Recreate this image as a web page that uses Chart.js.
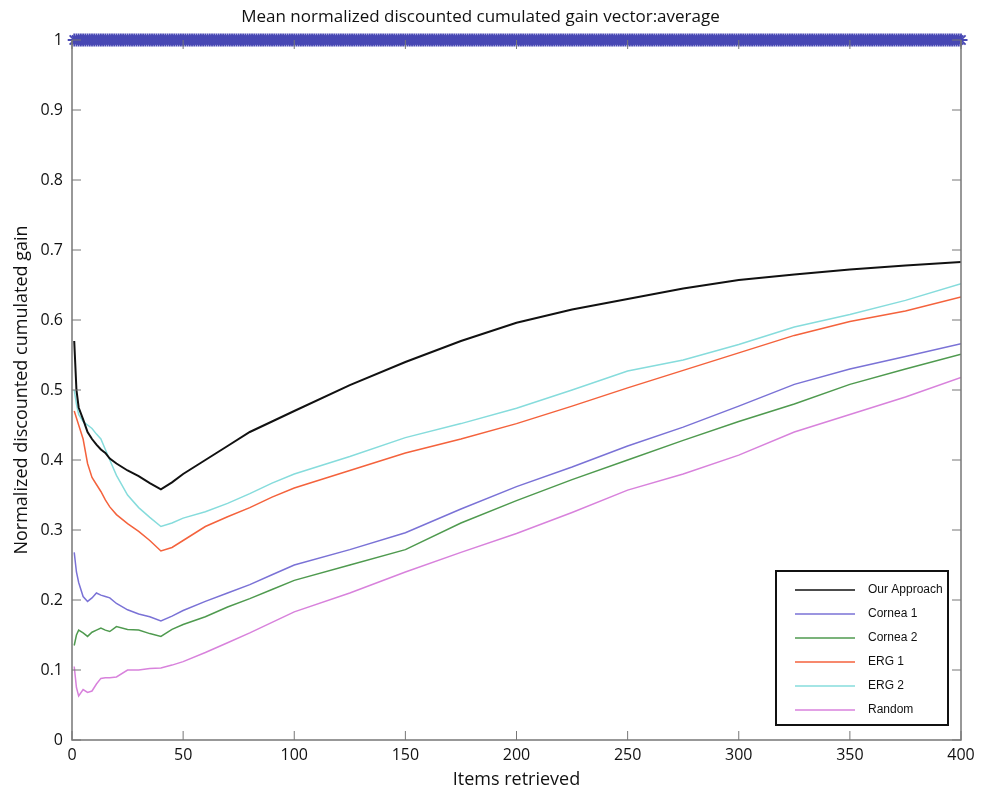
<!DOCTYPE html>
<html>
<head>
<meta charset="utf-8">
<script src="https://cdn.jsdelivr.net/npm/chart.js@4.4.0/dist/chart.umd.min.js"></script>
<style>
  html, body { margin: 0; padding: 0; background: #fff; }
  #wrap { width: 989px; height: 791px; position: relative; }
</style>
</head>
<body>
<div id="wrap"><canvas id="ndcgChart"></canvas></div>
<script>
// items retrieved (x positions of the sampled points)
const itemsRetrieved = [1, 2, 3, 5, 7, 9, 11, 13, 15, 17, 20, 25, 30, 35, 40, 45, 50, 60, 70, 80, 90, 100,
    125, 150, 175, 200, 225, 250, 275, 300, 325, 350, 375, 400];

const ourApproach = [0.570, 0.500, 0.475, 0.458, 0.440, 0.430, 0.422, 0.415, 0.410, 0.402, 0.395, 0.385, 0.377, 0.367, 0.358, 0.368, 0.380,
    0.400, 0.420, 0.440, 0.455, 0.470, 0.507, 0.540, 0.570, 0.596, 0.615, 0.630, 0.645, 0.657, 0.665, 0.672, 0.678, 0.683];
const cornea1 = [0.268, 0.240, 0.225, 0.205, 0.198, 0.203, 0.210, 0.207, 0.205, 0.203, 0.195, 0.186, 0.180, 0.176, 0.170, 0.177, 0.185,
    0.198, 0.210, 0.222, 0.236, 0.250, 0.272, 0.296, 0.330, 0.362, 0.390, 0.420, 0.447, 0.477, 0.508, 0.530, 0.548, 0.566];
const cornea2 = [0.135, 0.150, 0.157, 0.153, 0.148, 0.154, 0.157, 0.160, 0.157, 0.155, 0.162, 0.158, 0.157, 0.152, 0.148, 0.158, 0.165,
    0.176, 0.190, 0.202, 0.215, 0.228, 0.250, 0.272, 0.310, 0.342, 0.372, 0.400, 0.428, 0.455, 0.480, 0.508, 0.530, 0.551];
const erg1 = [0.470, 0.460, 0.450, 0.430, 0.395, 0.375, 0.365, 0.355, 0.343, 0.333, 0.322, 0.309, 0.298, 0.285, 0.270, 0.275, 0.285,
    0.305, 0.319, 0.332, 0.347, 0.360, 0.385, 0.410, 0.430, 0.452, 0.477, 0.503, 0.528, 0.553, 0.578, 0.598, 0.613, 0.633];
const erg2 = [0.500, 0.480, 0.465, 0.455, 0.450, 0.445, 0.437, 0.430, 0.415, 0.400, 0.378, 0.350, 0.332, 0.318, 0.305, 0.310, 0.317,
    0.326, 0.338, 0.352, 0.367, 0.380, 0.405, 0.432, 0.452, 0.474, 0.500, 0.527, 0.543, 0.565, 0.590, 0.608, 0.628, 0.652];
const randomRank = [0.105, 0.075, 0.063, 0.072, 0.068, 0.070, 0.080, 0.088, 0.089, 0.089, 0.090, 0.100, 0.100, 0.102, 0.103, 0.107, 0.112,
    0.125, 0.139, 0.153, 0.168, 0.183, 0.210, 0.240, 0.268, 0.295, 0.325, 0.357, 0.380, 0.407, 0.440, 0.465, 0.490, 0.518];

// ideal ranking: every item scores 1 (the row of stars along the top)
const idealItems = Array.from({ length: 400 }, (_, i) => i + 1);
const idealValues = idealItems.map(() => 1);

const xTicks = [0, 50, 100, 150, 200, 250, 300, 350, 400];
const yTicks = [0, 0.1, 0.2, 0.3, 0.4, 0.5, 0.6, 0.7, 0.8, 0.9, 1];

const seriesNames = ['Our Approach', 'Cornea 1', 'Cornea 2', 'ERG 1', 'ERG 2', 'Random'];
const seriesValues = [ourApproach, cornea1, cornea2, erg1, erg2, randomRank];
const seriesColors = ['#111111', '#7a72d6', '#4f9a4f', '#f4623c', '#86dcdc', '#d882dc'];

const mainFont = "'Open Sans', 'Noto Sans', sans-serif";

function toPoints(xs, ys) {
    return xs.map((x, i) => ({ x: x, y: ys[i] }));
}

var datasets = seriesNames.map(function (name, i) {
    return {
        label: name,
        data: toPoints(itemsRetrieved, seriesValues[i]),
        borderColor: seriesColors[i],
        backgroundColor: seriesColors[i],
        borderWidth: i === 0 ? 2 : 1.5,
        pointRadius: 0,
        tension: 0,
        order: 1
    };
});
datasets.push({
    label: 'ideal',
    data: toPoints(idealItems, idealValues),
    showLine: false,
    pointStyle: 'star',
    pointRadius: 6.5,
    pointBorderWidth: 1.8,
    borderColor: '#4848b4',
    backgroundColor: '#4848b4',
    clip: false,
    order: 0
});

// axes box with inward ticks (matlab style) + boxed legend inside the plot
const matlabAxes = {
    id: 'matlabAxes',
    afterDatasetsDraw(chart) {
        const ctx = chart.ctx;
        const a = chart.chartArea;
        const xs = chart.scales.x, ys = chart.scales.y;
        ctx.save();
        ctx.strokeStyle = '#777';
        ctx.lineWidth = 1.5;
        ctx.beginPath();
        ctx.moveTo(a.left, a.top);
        ctx.lineTo(a.left, a.bottom);
        ctx.lineTo(a.right, a.bottom);
        ctx.lineTo(a.right, a.top);
        ctx.stroke();
        ctx.lineWidth = 1;
        ctx.beginPath();
        xTicks.forEach(function (v) {
            const px = xs.getPixelForValue(v);
            ctx.moveTo(px, a.bottom); ctx.lineTo(px, a.bottom - 9);
            ctx.moveTo(px, a.top); ctx.lineTo(px, a.top + 9);
        });
        yTicks.forEach(function (v) {
            const py = ys.getPixelForValue(v);
            ctx.moveTo(a.left, py); ctx.lineTo(a.left + 9, py);
            ctx.moveTo(a.right, py); ctx.lineTo(a.right - 9, py);
        });
        ctx.stroke();

        // legend box
        const bw = 172, bh = 154;
        const bx = a.right - 13 - bw, by = a.bottom - 15 - bh;
        ctx.fillStyle = '#fff';
        ctx.fillRect(bx, by, bw, bh);
        ctx.strokeStyle = '#111';
        ctx.lineWidth = 2;
        ctx.strokeRect(bx, by, bw, bh);
        ctx.font = "12px 'Liberation Sans', Arial, sans-serif";
        ctx.textBaseline = 'middle';
        ctx.textAlign = 'left';
        seriesNames.forEach(function (name, i) {
            const ly = by + 19 + i * 24;
            ctx.strokeStyle = seriesColors[i];
            ctx.lineWidth = 1.5;
            ctx.beginPath();
            ctx.moveTo(bx + 19, ly); ctx.lineTo(bx + 79, ly);
            ctx.stroke();
            ctx.fillStyle = '#111';
            ctx.fillText(name, bx + 92, ly);
        });
        ctx.restore();
    }
};

var ctx = document.getElementById('ndcgChart').getContext('2d');
var ndcgChart = new Chart(ctx, {
    type: 'line',
    data: { datasets: datasets },
    options: {
        responsive: true,
        maintainAspectRatio: false,
        animation: false,
        layout: { padding: { left: 0, right: 28, top: 0, bottom: 0 } },
        plugins: {
            legend: { display: false },
            tooltip: { enabled: false },
            title: {
                display: true,
                text: 'Mean normalized discounted cumulated gain vector:average',
                color: '#111',
                font: { family: mainFont, size: 17, weight: 'normal' },
                padding: { top: 7, bottom: 12.6 }
            }
        },
        scales: {
            x: {
                type: 'linear',
                min: 0,
                max: 400,
                afterBuildTicks: function (scale) {
                    scale.ticks = xTicks.map(v => ({ value: v }));
                },
                afterFit: function (scale) { scale.height = 51; },
                grid: { display: false, drawTicks: false },
                border: { display: false },
                ticks: {
                    color: '#111',
                    padding: 6,
                    maxRotation: 0,
                    font: { family: mainFont, size: 16 }
                },
                title: {
                    display: true,
                    text: 'Items retrieved',
                    color: '#111',
                    padding: { top: 0, bottom: 0 },
                    font: { family: mainFont, size: 18 }
                }
            },
            y: {
                min: 0,
                max: 1,
                afterBuildTicks: function (scale) {
                    scale.ticks = yTicks.map(v => ({ value: v }));
                },
                afterFit: function (scale) { scale.width = 72; },
                grid: { display: false, drawTicks: false },
                border: { display: false },
                ticks: {
                    color: '#111',
                    padding: 9,
                    font: { family: mainFont, size: 16 },
                    callback: function (v) { return String(v); }
                },
                title: {
                    display: true,
                    text: 'Normalized discounted cumulated gain',
                    color: '#111',
                    padding: { top: 11, bottom: 0 },
                    font: { family: mainFont, size: 18 }
                }
            }
        }
    },
    plugins: [matlabAxes]
});
</script>
</body>
</html>
